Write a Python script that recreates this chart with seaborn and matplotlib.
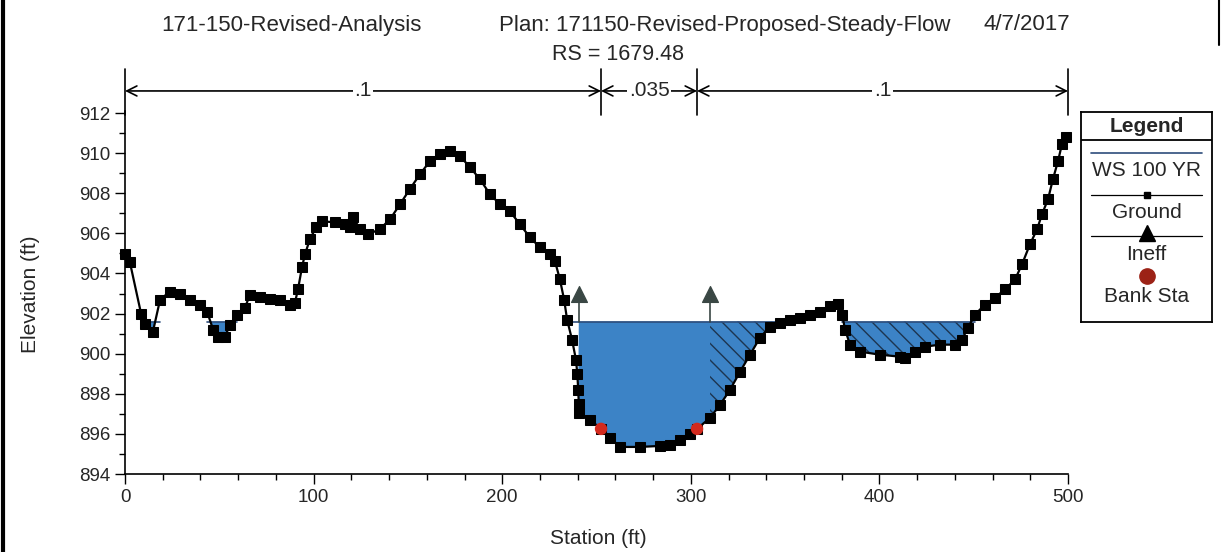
import numpy as np
import matplotlib
matplotlib.use("Agg")
import matplotlib.pyplot as plt
import seaborn as sns
from matplotlib.lines import Line2D

# --- data ---
station = [0, 2.6, 8.5, 10.6, 14.8, 18.6, 23.9, 29.0, 34.5, 39.8, 43.5, 46.7, 49.3, 53.0,
           55.7, 59.4, 63.6, 66.3, 71.6, 76.9, 82.2, 87.5, 90.1, 91.7, 93.8, 95.4, 98.0,
           101.3, 104.5, 111.3, 116.6, 119.3, 120.9, 124.6, 128.8, 135.0, 140.5, 145.8,
           151.0, 156.4, 161.7, 167.0, 172.3, 177.6, 182.9, 188.2, 193.5, 198.8, 204.1,
           209.4, 214.7, 220.0, 225.3, 228.0, 230.6, 232.8, 234.4, 237.0, 239.1, 239.8,
           240.3, 240.6, 240.8, 246.6, 252.4, 257.2, 262.5, 273.0, 283.7, 289.0, 294.3,
           299.6, 303.3, 310.2, 315.5, 320.8, 326.1, 331.4, 336.7, 342.0, 347.3, 352.6,
           357.9, 363.2, 368.5, 373.8, 378.0, 380.2, 381.8, 384.4, 389.7, 400.3, 410.9,
           413.5, 418.9, 424.2, 432.1, 440.1, 443.8, 447.0, 450.7, 456.0, 461.3, 466.6,
           471.9, 475.6, 479.8, 483.6, 486.2, 489.4, 492.0, 494.7, 496.8, 498.9]
elevation = [904.95, 904.55, 902.0, 901.5, 901.1, 902.7, 903.1, 903.0, 902.7, 902.45, 902.1,
             901.2, 900.85, 900.85, 901.45, 901.95, 902.3, 902.95, 902.85, 902.75, 902.7,
             902.45, 902.55, 903.2, 904.3, 904.95, 905.7, 906.3, 906.6, 906.55, 906.45,
             906.3, 906.8, 906.2, 905.95, 906.2, 906.7, 907.45, 908.2, 908.95, 909.6,
             909.95, 910.1, 909.85, 909.3, 908.7, 907.95, 907.45, 907.1, 906.45, 905.8,
             905.3, 904.95, 904.6, 903.7, 902.7, 901.7, 900.7, 899.7, 899.0, 898.2, 897.5,
             897.05, 896.7, 896.25, 895.8, 895.35, 895.35, 895.4, 895.45, 895.7, 896.0,
             896.25, 896.8, 897.45, 898.2, 899.1, 899.95, 900.8, 901.35, 901.55, 901.7,
             901.8, 901.95, 902.1, 902.4, 902.5, 901.95, 901.2, 900.45, 900.1, 899.95,
             899.85, 899.8, 900.1, 900.35, 900.45, 900.45, 900.7, 901.3, 901.95, 902.45,
             902.8, 903.2, 903.7, 904.45, 905.45, 906.2, 906.95, 907.7, 908.7, 909.6,
             910.45, 910.8]
ws_100yr = 901.6
ineff_sta = [240.5, 310.0]
ineff_elev = [903.0, 903.0]
bank_sta = [252.4, 303.3]
bank_elev = [896.25, 896.25]
n_breaks = [0, 252.4, 303.3, 500]
n_values = [".1", ".035", ".1"]

sns.set_style("ticks")
plt.rcParams["font.family"] = ["Liberation Sans", "DejaVu Sans"]

fig = plt.figure(figsize=(12.21, 5.52), dpi=100)
ax = fig.add_axes([0.1024, 0.1413, 0.7723, 0.6576])

sta = np.array(station)
grd = np.array(elevation)
ws = np.full_like(grd, ws_100yr)
wet = grd < ws

water_blue = "#3c83c6"
ws_navy = "#2d4d7c"

# effective (solid) water: left pools and main channel up to right ineffective station
solid = wet & ((sta < 100) | ((sta >= ineff_sta[0]) & (sta <= ineff_sta[1] + 0.2)))
ax.fill_between(sta, grd, ws, where=solid, interpolate=True,
                facecolor=water_blue, edgecolor=water_blue, lw=0, zorder=1)
# ineffective (hatched) water right of ineff station
hatched = wet & (sta >= ineff_sta[1] + 0.2)
ax.fill_between(sta, grd, ws, where=hatched, interpolate=True,
                facecolor=water_blue, edgecolor="#1d3550", hatch="\\\\", lw=0, zorder=1)
# water surface line on top of wet areas
ws_line = np.where(wet | np.r_[wet[1:], False] | np.r_[False, wet[:-1]], ws_100yr, np.nan)
ax.plot(sta, ws_line, color=ws_navy, lw=1.2, zorder=2)

# ineffective flow markers
for s, e in zip(ineff_sta, ineff_elev):
    ax.plot([s, s], [ws_100yr, e], color="#3a4744", lw=1.2, zorder=3)
sns.scatterplot(x=ineff_sta, y=ineff_elev, marker="^", s=130, color="#3a4744",
                edgecolor="#3a4744", ax=ax, zorder=4)

# ground
sns.lineplot(x=station, y=elevation, sort=False, estimator=None, color="black", lw=1.6,
             marker="s", markersize=7.5, markeredgecolor="black", ax=ax, zorder=5)
for ln in ax.lines:
    ln.set_clip_on(False)

# bank stations
sns.scatterplot(x=bank_sta, y=bank_elev, color="#d42a1e", s=80, edgecolor="none",
                ax=ax, zorder=6)

ax.set_xlim(0, 500)
ax.set_ylim(894, 912.1)
ax.set_xticks(range(0, 501, 100))
ax.set_xticks(range(0, 501, 20), minor=True)
ax.set_yticks(range(894, 913, 2))
ax.set_yticks(range(894, 913, 1), minor=True)
ax.tick_params(which="major", length=7, width=1, labelsize=13.5, color="black")
ax.tick_params(which="minor", length=4, width=1, color="black")
for sp in ["left", "bottom"]:
    ax.spines[sp].set_color("black")
    ax.spines[sp].set_linewidth(1.2)
sns.despine(ax=ax)
ax.set_xlabel("")
ax.set_ylabel("")

# Manning's n brackets above the plot
for b in n_breaks:
    ax.plot([b, b], [911.9, 914.2], color="black", lw=1.2, clip_on=False)
for i, n in enumerate(n_values):
    x0, x1 = n_breaks[i], n_breaks[i + 1]
    ax.annotate("", xy=(x0, 913.1), xytext=(x1, 913.1), annotation_clip=False,
                arrowprops=dict(arrowstyle="<->", lw=1.2, color="black",
                                shrinkA=0, shrinkB=0, mutation_scale=18))
    ax.text((x0 + x1) / 2, 913.1, n, ha="center", va="center", fontsize=15,
            bbox=dict(facecolor="white", edgecolor="none", pad=1.0), clip_on=False)

# titles
fig.text(291 / 1221, 1 - 25 / 552, "171-150-Revised-Analysis", ha="center", va="center", fontsize=16)
fig.text(725 / 1221, 1 - 25 / 552, "Plan: 171150-Revised-Proposed-Steady-Flow", ha="center",
         va="center", fontsize=16)
fig.text(1027 / 1221, 1 - 25 / 552, "4/7/2017", ha="center", va="center", fontsize=16)
fig.text(618 / 1221, 1 - 55 / 552, "RS = 1679.48", ha="center", va="center", fontsize=15.5)
fig.text(31 / 1221, 1 - 294 / 552, "Elevation (ft)", rotation=90, ha="center", va="center", fontsize=15)
fig.text(598 / 1221, 1 - 538 / 552, "Station (ft)", ha="center", va="center", fontsize=15)

# legend box drawn by hand (labels under symbols)
lax = fig.add_axes([1081 / 1221, 1 - 322 / 552, 131 / 1221, 210 / 552])
lax.set_xlim(0, 131)
lax.set_ylim(210, 0)
lax.set_xticks([])
lax.set_yticks([])
for sp in lax.spines.values():
    sp.set_visible(True)
    sp.set_color("black")
    sp.set_linewidth(1.3)
lax.axhline(28, color="black", lw=1.3)
lax.text(65.5, 14, "Legend", ha="center", va="center", fontsize=15, fontweight="bold")
lax.plot([10, 121], [41, 41], color=ws_navy, lw=1.2)
lax.text(65.5, 59, "WS 100 YR", ha="center", va="center", fontsize=15)
lax.plot([10, 121], [83, 83], color="black", lw=0.9)
lax.plot([66], [83], marker="s", color="black", markersize=5)
lax.text(65.5, 100, "Ground", ha="center", va="center", fontsize=15)
lax.plot([10, 121], [124, 124], color="black", lw=0.9)
lax.plot([66], [121], marker="^", color="black", markersize=11)
lax.text(65.5, 142, "Ineff", ha="center", va="center", fontsize=15)
lax.plot([66], [164], marker="o", color="#9c2216", markersize=11)
lax.text(65.5, 184, "Bank Sta", ha="center", va="center", fontsize=15)

# window border remnants
fig.add_artist(Line2D([3 / 1221, 3 / 1221], [0, 1], color="black", lw=3))
fig.add_artist(Line2D([1219 / 1221, 1219 / 1221], [1 - 45 / 552, 1], color="black", lw=1.5))

fig.savefig("out.png", dpi=100)
